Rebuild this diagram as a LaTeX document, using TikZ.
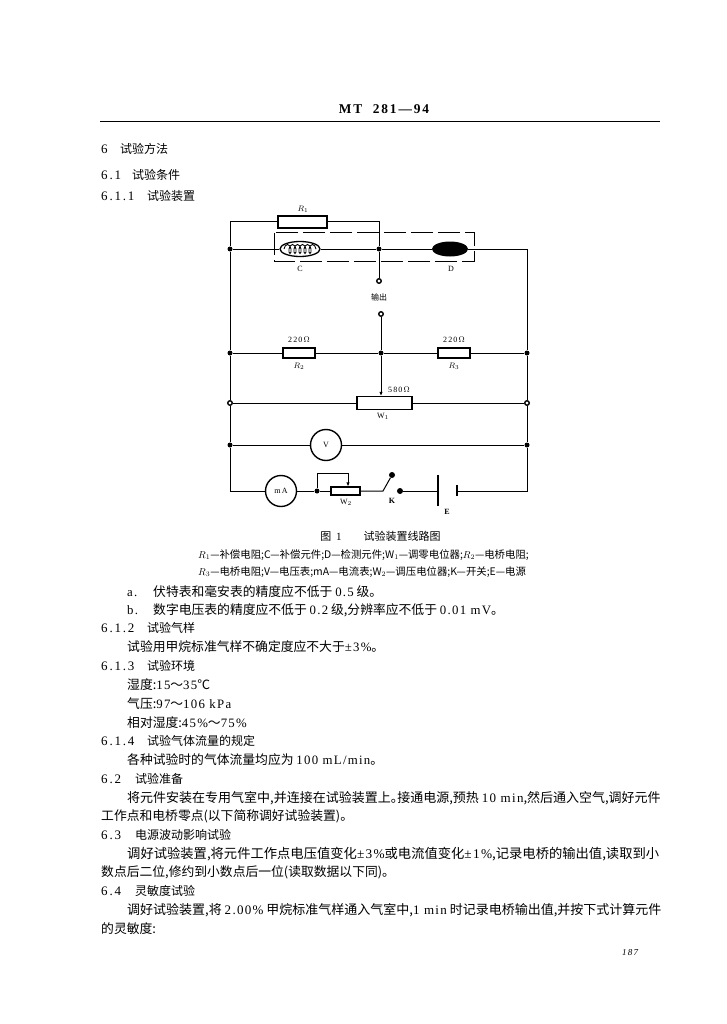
\documentclass[tikz,border=0pt]{standalone}
\usepackage{fontspec}
\setmainfont[RawFeature={+halt}]{Noto Sans CJK SC}
\newfontfamily\latinfont[LetterSpace=10]{Liberation Serif}
\newfontfamily\headfont[LetterSpace=14]{Liberation Serif}
\newcommand{\ltn}[1]{{\latinfont #1}}
\newcommand{\tld}{\char"FF5E\relax}
\usetikzlibrary{positioning,arrows,arrows.meta,shapes}
\usetikzlibrary{decorations.pathmorphing}
\tikzset{
  wire/.style={draw=black, line width=1pt},
  wiper/.style={wire, -{Latex[length=4pt,width=3.5pt]}},
  res/.style={draw=black, line width=1.3pt, fill=white, rectangle, inner sep=0pt, minimum height=10pt},
  meter/.style={draw=black, line width=1.4pt, fill=white, circle, inner sep=0pt, minimum size=31pt, font=\fontsize{8}{8}\selectfont\headfont},
  dot/.style={circle, fill=black, inner sep=0pt, minimum size=5pt},
  term/.style={circle, draw=black, fill=white, line width=1.4pt, inner sep=0pt, minimum size=4.5pt},
  lbl/.style={inner sep=0pt, font=\fontsize{8}{8}\selectfont\headfont},
  para/.style={anchor=west, inner sep=0pt, font=\fontsize{12.8}{13}\selectfont},
  sect/.style={anchor=west, inner sep=0pt, font=\fontsize{12}{13}\selectfont},
  note/.style={anchor=west, inner sep=0pt, font=\fontsize{10.4}{11}\selectfont}
}
\newcommand{\secno}[1]{\makebox[46pt][l]{\fontsize{13}{13}\selectfont\headfont #1}}
\begin{document}
\begin{tikzpicture}[x=1pt, y=-1pt]
    \useasboundingbox (0,0) rectangle (726,1024);
    % header
    \node[inner sep=0pt, font=\fontsize{13.4}{14}\selectfont\headfont\bfseries] (head) at (384,109) {MT\ \ 281—94};
    \coordinate (ruleL) at (100,122);
    \coordinate (ruleR) at (660,122);
    \draw[wire] (ruleL) -- (ruleR);
    \node[sect] (sec6) at (101,149) {\makebox[19pt][l]{\fontsize{13}{13}\selectfont\headfont 6}试验方法};
    \node[sect] (sec61) at (101,175) {\makebox[31pt][l]{\fontsize{13}{13}\selectfont\headfont 6.1}试验条件};
    \node[sect] (sec611) at (101,196) {\secno{6.1.1}试验装置};
    % rails
    \coordinate (topL) at (230,222);
    \coordinate (topM) at (379,222);
    \coordinate (topR) at (527,249);
    \coordinate (botL) at (230,491);
    \coordinate (botR) at (527,491);
    \node[dot] (nA) at (230,249) {};
    \node[dot] (nB) at (379,249) {};
    \node[dot] (nC) at (230,353) {};
    \node[dot] (nD) at (381,353) {};
    \node[dot] (nE) at (527,353) {};
    \node[term] (nF) at (230,403) {};
    \node[term] (nG) at (527,403) {};
    \node[dot] (nH) at (230,445) {};
    \node[dot] (nI) at (527,445) {};
    \node[term] (outA) at (379,281) {};
    \node[term] (outB) at (381,314) {};
    \node[lbl, font=\fontsize{8}{8}\selectfont] (outlbl) at (379,297) {输出};
    % elements
    \node[res, minimum width=49pt, minimum height=12pt] (Rone) at (302.5,222) {};
    \node[lbl] (Ronelbl) at (303,209) {$R_1$};
    \node[ellipse, draw=black, line width=1.3pt, fill=white, inner sep=0pt, minimum width=40pt, minimum height=15pt] (C) at (300,249) {};
    \draw[decorate, decoration={coil, aspect=0.5, segment length=5pt, amplitude=4.5pt}, line width=0.9pt] (284,249) -- (316,249);
    \node[ellipse, fill=black, inner sep=0pt, minimum width=36pt, minimum height=15pt] (D) at (450,249) {};
    \node[lbl] (Clbl) at (300,269) {C};
    \node[lbl] (Dlbl) at (451,269) {D};
    \draw[line width=1pt, dash pattern=on 22pt off 5pt] (274,233) rectangle (474,261);
    \node[res, minimum width=32pt] (Rtwo) at (299,353) {};
    \node[res, minimum width=32pt] (Rthree) at (454,353) {};
    \node[lbl] (Rtwoval) at (299,340) {220\,$\Omega$};
    \node[lbl] (Rthreeval) at (454,340) {220\,$\Omega$};
    \node[lbl] (Rtwolbl) at (299,366) {$R_2$};
    \node[lbl] (Rthreelbl) at (454,366) {$R_3$};
    \node[res, minimum width=55pt, minimum height=13pt] (Wone) at (384.5,403) {};
    \node[lbl] (Wonelbl) at (383,416) {W$_1$};
    \node[lbl] (Woneval) at (399,390) {580\,$\Omega$};
    \node[meter] (V) at (326,445) {V};
    \node[meter] (mA) at (281,491) {mA};
    \node[dot] (nJ) at (317,491) {};
    \node[res, minimum width=29pt, minimum height=8pt] (Wtwo) at (345.5,491) {};
    \node[lbl] (Wtwolbl) at (346,502) {W$_2$};
    \coordinate (wipA) at (317,473);
    \coordinate (wipB) at (348,473);
    \coordinate (swA) at (383,491);
    \node[dot, minimum size=6pt] (swB) at (392,475) {};
    \node[dot, minimum size=6pt] (swC) at (400,491) {};
    \node[lbl] (K) at (392,501) {\bfseries K};
    \coordinate (platA) at (438,491);
    \coordinate (platB) at (457,491);
    \coordinate (platAu) at (438,475);
    \coordinate (platAd) at (438,506);
    \coordinate (platBu) at (457,485);
    \coordinate (platBd) at (457,496);
    \node[lbl] (E) at (447,512) {\bfseries E};
    % connectors
    \draw[wire] (topL) -- (Rone.west);
    \draw[wire] (Rone.east) -- (topM) -- (nB);
    \draw[wire] (topL) -- (nA) -- (nC) -- (nF) -- (nH) -- (botL) -- (mA.west);
    \draw[wire] (topR) -- (nE) -- (nG) -- (nI) -- (botR) -- (platB);
    \draw[wire] (nA) -- (C.west);
    \draw[wire] (C.east) -- (nB) -- (D.west);
    \draw[wire] (D.east) -- (topR);
    \draw[wire] (nB) -- (outA);
    \draw[wire] (outB) -- (nD);
    \draw[wire] (nC) -- (Rtwo.west);
    \draw[wire] (Rtwo.east) -- (nD) -- (Rthree.west);
    \draw[wire] (Rthree.east) -- (nE);
    \draw[wiper] (nD) -- (Wone.north -| nD);
    \draw[wire] (nF) -- (Wone.west);
    \draw[wire] (Wone.east) -- (nG);
    \draw[wire] (nH) -- (V.west);
    \draw[wire] (V.east) -- (nI);
    \draw[wire] (mA.east) -- (nJ) -- (Wtwo.west);
    \draw[wiper] (nJ) -- (wipA) -- (wipB) -- (Wtwo.north -| wipB);
    \draw[wire] (Wtwo.east) -- (swA) -- (swB);
    \draw[wire] (swC) -- (platA);
    \draw[line width=1.3pt] (platAu) -- (platAd);
    \draw[line width=2pt] (platBu) -- (platBd);
    % caption
    \node[inner sep=0pt, font=\fontsize{11}{11}\selectfont] (cap) at (380.5,536) {图\ \ \ltn{1}\qquad 试验装置线路图};
    \node[note] (capA) at (198,555) {$R_1$—补偿电阻;C—补偿元件;D—检测元件;W\ltn{$_1$}—调零电位器;$R_2$—电桥电阻;};
    \node[note] (capB) at (198,572) {$R_3$—电桥电阻;V—电压表;mA—电流表;W\ltn{$_2$}—调压电位器;K—开关;E—电源};
    % body text
    \node[para] (ta) at (127,592) {\makebox[26pt][l]{\ltn{a.}}伏特表和毫安表的精度应不低于 \ltn{0.5} 级。};
    \node[para] (tb) at (127,610) {\makebox[26pt][l]{\ltn{b.}}数字电压表的精度应不低于 \ltn{0.2} 级,分辨率应不低于 \ltn{0.01 mV}。};
    \node[sect] (s612) at (101,628) {\secno{6.1.2}试验气样};
    \node[para] (t612) at (127,647) {试验用甲烷标准气样不确定度应不大于\ltn{±3\%}。};
    \node[sect] (s613) at (101,666) {\secno{6.1.3}试验环境};
    \node[para] (t613a) at (127,685) {湿度:\ltn{15}\tld\ltn{35}℃};
    \node[para] (t613b) at (127,704) {气压:\ltn{97}\tld\ltn{106 kPa}};
    \node[para] (t613c) at (127,723) {相对湿度:\ltn{45\%}\tld\ltn{75\%}};
    \node[sect] (s614) at (101,741) {\secno{6.1.4}试验气体流量的规定};
    \node[para] (t614) at (127,760) {各种试验时的气体流量均应为 \ltn{100 mL/min}。};
    \node[sect] (s62) at (101,779) {\makebox[34pt][l]{\fontsize{13}{13}\selectfont\headfont 6.2}试验准备};
    \node[para, font=\fontsize{13}{13}\selectfont] (t62a) at (127,798) {将元件安装在专用气室中,并连接在试验装置上。接通电源,预热 \ltn{10 min},然后通入空气,调好元件};
    \node[para] (t62b) at (101,816) {工作点和电桥零点(以下简称调好试验装置)。};
    \node[sect] (s63) at (101,835) {\makebox[34pt][l]{\fontsize{13}{13}\selectfont\headfont 6.3}电源波动影响试验};
    \node[para, font=\fontsize{13.3}{13}\selectfont] (t63a) at (127,854) {调好试验装置,将元件工作点电压值变化\ltn{±3\%}或电流值变化\ltn{±1\%},记录电桥的输出值,读取到小};
    \node[para] (t63b) at (101,872) {数点后二位,修约到小数点后一位(读取数据以下同)。};
    \node[sect] (s64) at (101,891) {\makebox[34pt][l]{\fontsize{13}{13}\selectfont\headfont 6.4}灵敏度试验};
    \node[para, font=\fontsize{13}{13}\selectfont] (t64a) at (127,910) {调好试验装置,将 \ltn{2.00\%} 甲烷标准气样通入气室中,\ltn{1 min} 时记录电桥输出值,并按下式计算元件};
    \node[para] (t64b) at (101,929) {的灵敏度:};
    \node[lbl, font=\fontsize{9}{9}\selectfont\headfont\itshape] (page) at (630,953) {187};
  \end{tikzpicture}
\end{document}
